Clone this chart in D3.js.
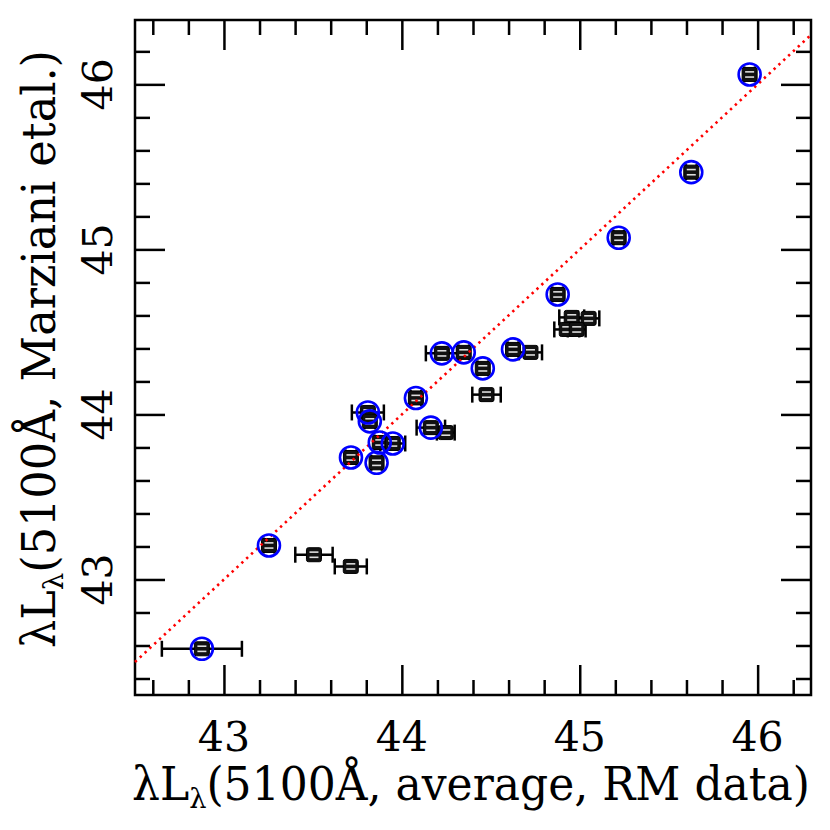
<!DOCTYPE html>
<html><head><meta charset="utf-8">
<script src="https://cdn.jsdelivr.net/npm/d3@7"></script>
<style>html,body{margin:0;padding:0;background:#fff;}</style>
</head><body>
<script>
// Data
const xVals   = [42.876,43.253,43.506,43.713,43.714,43.858,43.876,43.949,43.809,43.820,44.079,44.163,44.247,44.225,44.348,44.455,44.476,44.625,44.723,44.876,44.955,45.050,44.927,44.983,45.219,45.627,45.955];
const yVals   = [42.580,43.206,43.150,43.079,43.739,43.707,43.830,43.824,44.012,43.958,44.100,43.920,43.890,44.370,44.376,44.279,44.120,44.394,44.376,44.727,44.588,44.582,44.515,44.515,45.071,45.468,46.060];
const xErrs   = [0.225,0.03,0.105,0.09,0.03,0.03,0.03,0.07,0.09,0.03,0.03,0.08,0.05,0.09,0.03,0.03,0.08,0.03,0.065,0.03,0.07,0.06,0.07,0.05,0.03,0.03,0.03];
const circled = [1,1,0,0,1,1,1,1,1,1,1,1,0,1,1,1,0,1,0,1,0,0,0,0,1,1,1];
const xTicks = [43,44,45,46];
const yTicks = [43,44,45,46];
const xDomain = [42.5, 46.3];
const yDomain = [42.3, 46.39];

const W = 830, H = 830;
const L = 135, R = 811, T = 20, B = 695;
const svg = d3.select("body").append("svg").attr("width", W).attr("height", H)
  .style("font-family", "'DejaVu Serif', serif");

const x = d3.scaleLinear().domain(xDomain).range([L, R]);
const y = d3.scaleLinear().domain(yDomain).range([B, T]);

const majorLen = 30, minorLen = 15, sw = 2.5;

function minorTicks(dom) {
  const out = [];
  for (let v = Math.ceil(dom[0] * 5) / 5; v <= dom[1] + 1e-9; v += 0.2) {
    const r = Math.round(v * 5) / 5;
    if (Math.abs(r - Math.round(r)) > 1e-6) out.push(r);
  }
  return out;
}
const xMin = minorTicks(xDomain), yMin = minorTicks(yDomain);

const axB = d3.axisBottom(x).tickValues(xTicks).tickSize(-majorLen).tickFormat("");
const axT = d3.axisTop(x).tickValues(xTicks).tickSize(-majorLen).tickFormat("");
const axL = d3.axisLeft(y).tickValues(yTicks).tickSize(-majorLen).tickFormat("");
const axR = d3.axisRight(y).tickValues(yTicks).tickSize(-majorLen).tickFormat("");
const axBm = d3.axisBottom(x).tickValues(xMin).tickSize(-minorLen).tickFormat("");
const axTm = d3.axisTop(x).tickValues(xMin).tickSize(-minorLen).tickFormat("");
const axLm = d3.axisLeft(y).tickValues(yMin).tickSize(-minorLen).tickFormat("");
const axRm = d3.axisRight(y).tickValues(yMin).tickSize(-minorLen).tickFormat("");

function addAxis(ax, tr) {
  const g = svg.append("g").attr("transform", tr).call(ax);
  g.select(".domain").remove();
  g.selectAll("line").attr("stroke", "#000").attr("stroke-width", sw);
}
addAxis(axB, `translate(0,${B})`); addAxis(axBm, `translate(0,${B})`);
addAxis(axT, `translate(0,${T})`); addAxis(axTm, `translate(0,${T})`);
addAxis(axL, `translate(${L},0)`); addAxis(axLm, `translate(${L},0)`);
addAxis(axR, `translate(${R},0)`); addAxis(axRm, `translate(${R},0)`);

svg.append("rect").attr("x", L).attr("y", T).attr("width", R - L).attr("height", B - T)
  .attr("fill", "none").attr("stroke", "#000").attr("stroke-width", sw);

// Tick labels
svg.append("g").selectAll("text").data(xTicks).join("text")
  .attr("x", d => x(d)).attr("y", 751).attr("text-anchor", "middle")
  .attr("font-size", 41).attr("fill", "#000").text(d => d);
svg.append("g").selectAll("text").data(yTicks).join("text")
  .attr("transform", d => `translate(112,${y(d)}) rotate(-90)`)
  .attr("text-anchor", "middle").attr("font-size", 41).attr("fill", "#000").text(d => d);

// Axis titles
function title(g, rest) {
  g.append("tspan").text("λL");
  g.append("tspan").attr("font-size", "0.62em").attr("dy", "0.28em").text("λ");
  g.append("tspan").attr("dy", "-0.175em").text(rest);
}
const xt = svg.append("text").attr("x", 132).attr("y", 800).attr("font-size", 46)
  .attr("fill", "#000").attr("textLength", 678).attr("lengthAdjust", "spacingAndGlyphs");
title(xt, "(5100Å, average, RM data)");
const yt = svg.append("text").attr("transform", "translate(55,648) rotate(-90)")
  .attr("font-size", 46).attr("fill", "#000").attr("textLength", 598).attr("lengthAdjust", "spacingAndGlyphs");
title(yt, "(5100Å, Marziani etal.)");

// Data
const pts = xVals.map((v, i) => ({x: v, y: yVals[i], e: xErrs[i], c: circled[i]}));
const plot = svg.append("g");

// error bars
const eb = plot.append("g").attr("stroke", "#000").attr("stroke-width", 2.5);
pts.forEach(p => {
  eb.append("line").attr("x1", x(p.x - p.e)).attr("x2", x(p.x + p.e)).attr("y1", y(p.y)).attr("y2", y(p.y));
  [p.x - p.e, p.x + p.e].forEach(v =>
    eb.append("line").attr("x1", x(v)).attr("x2", x(v)).attr("y1", y(p.y) - 8).attr("y2", y(p.y) + 8));
});

// markers
const mk = plot.append("g");
pts.forEach(p => {
  const cx = x(p.x), cy = y(p.y);
  mk.append("rect").attr("x", cx - 7.5).attr("y", cy - 7).attr("width", 15).attr("height", 14)
    .attr("rx", 2).attr("fill", "#111").attr("stroke", "#000").attr("stroke-width", 1);
  [-2.6, 2.6].forEach(dy =>
    mk.append("line").attr("x1", cx - 4.5).attr("x2", cx + 4.5).attr("y1", cy + dy).attr("y2", cy + dy)
      .attr("stroke", "#ddd").attr("stroke-width", 1.6));
});

// y = x dotted line
plot.append("line")
  .attr("x1", x(xDomain[0])).attr("y1", y(xDomain[0]))
  .attr("x2", x(xDomain[1])).attr("y2", y(xDomain[1]))
  .attr("stroke", "#ff0000").attr("stroke-width", 2.6).attr("stroke-dasharray", "2.4 4.2");

// circles
plot.append("g").selectAll("circle").data(pts.filter(p => p.c)).join("circle")
  .attr("cx", d => x(d.x)).attr("cy", d => y(d.y)).attr("r", 11)
  .attr("fill", "none").attr("stroke", "#0000ff").attr("stroke-width", 2.6);
</script>
</body></html>
